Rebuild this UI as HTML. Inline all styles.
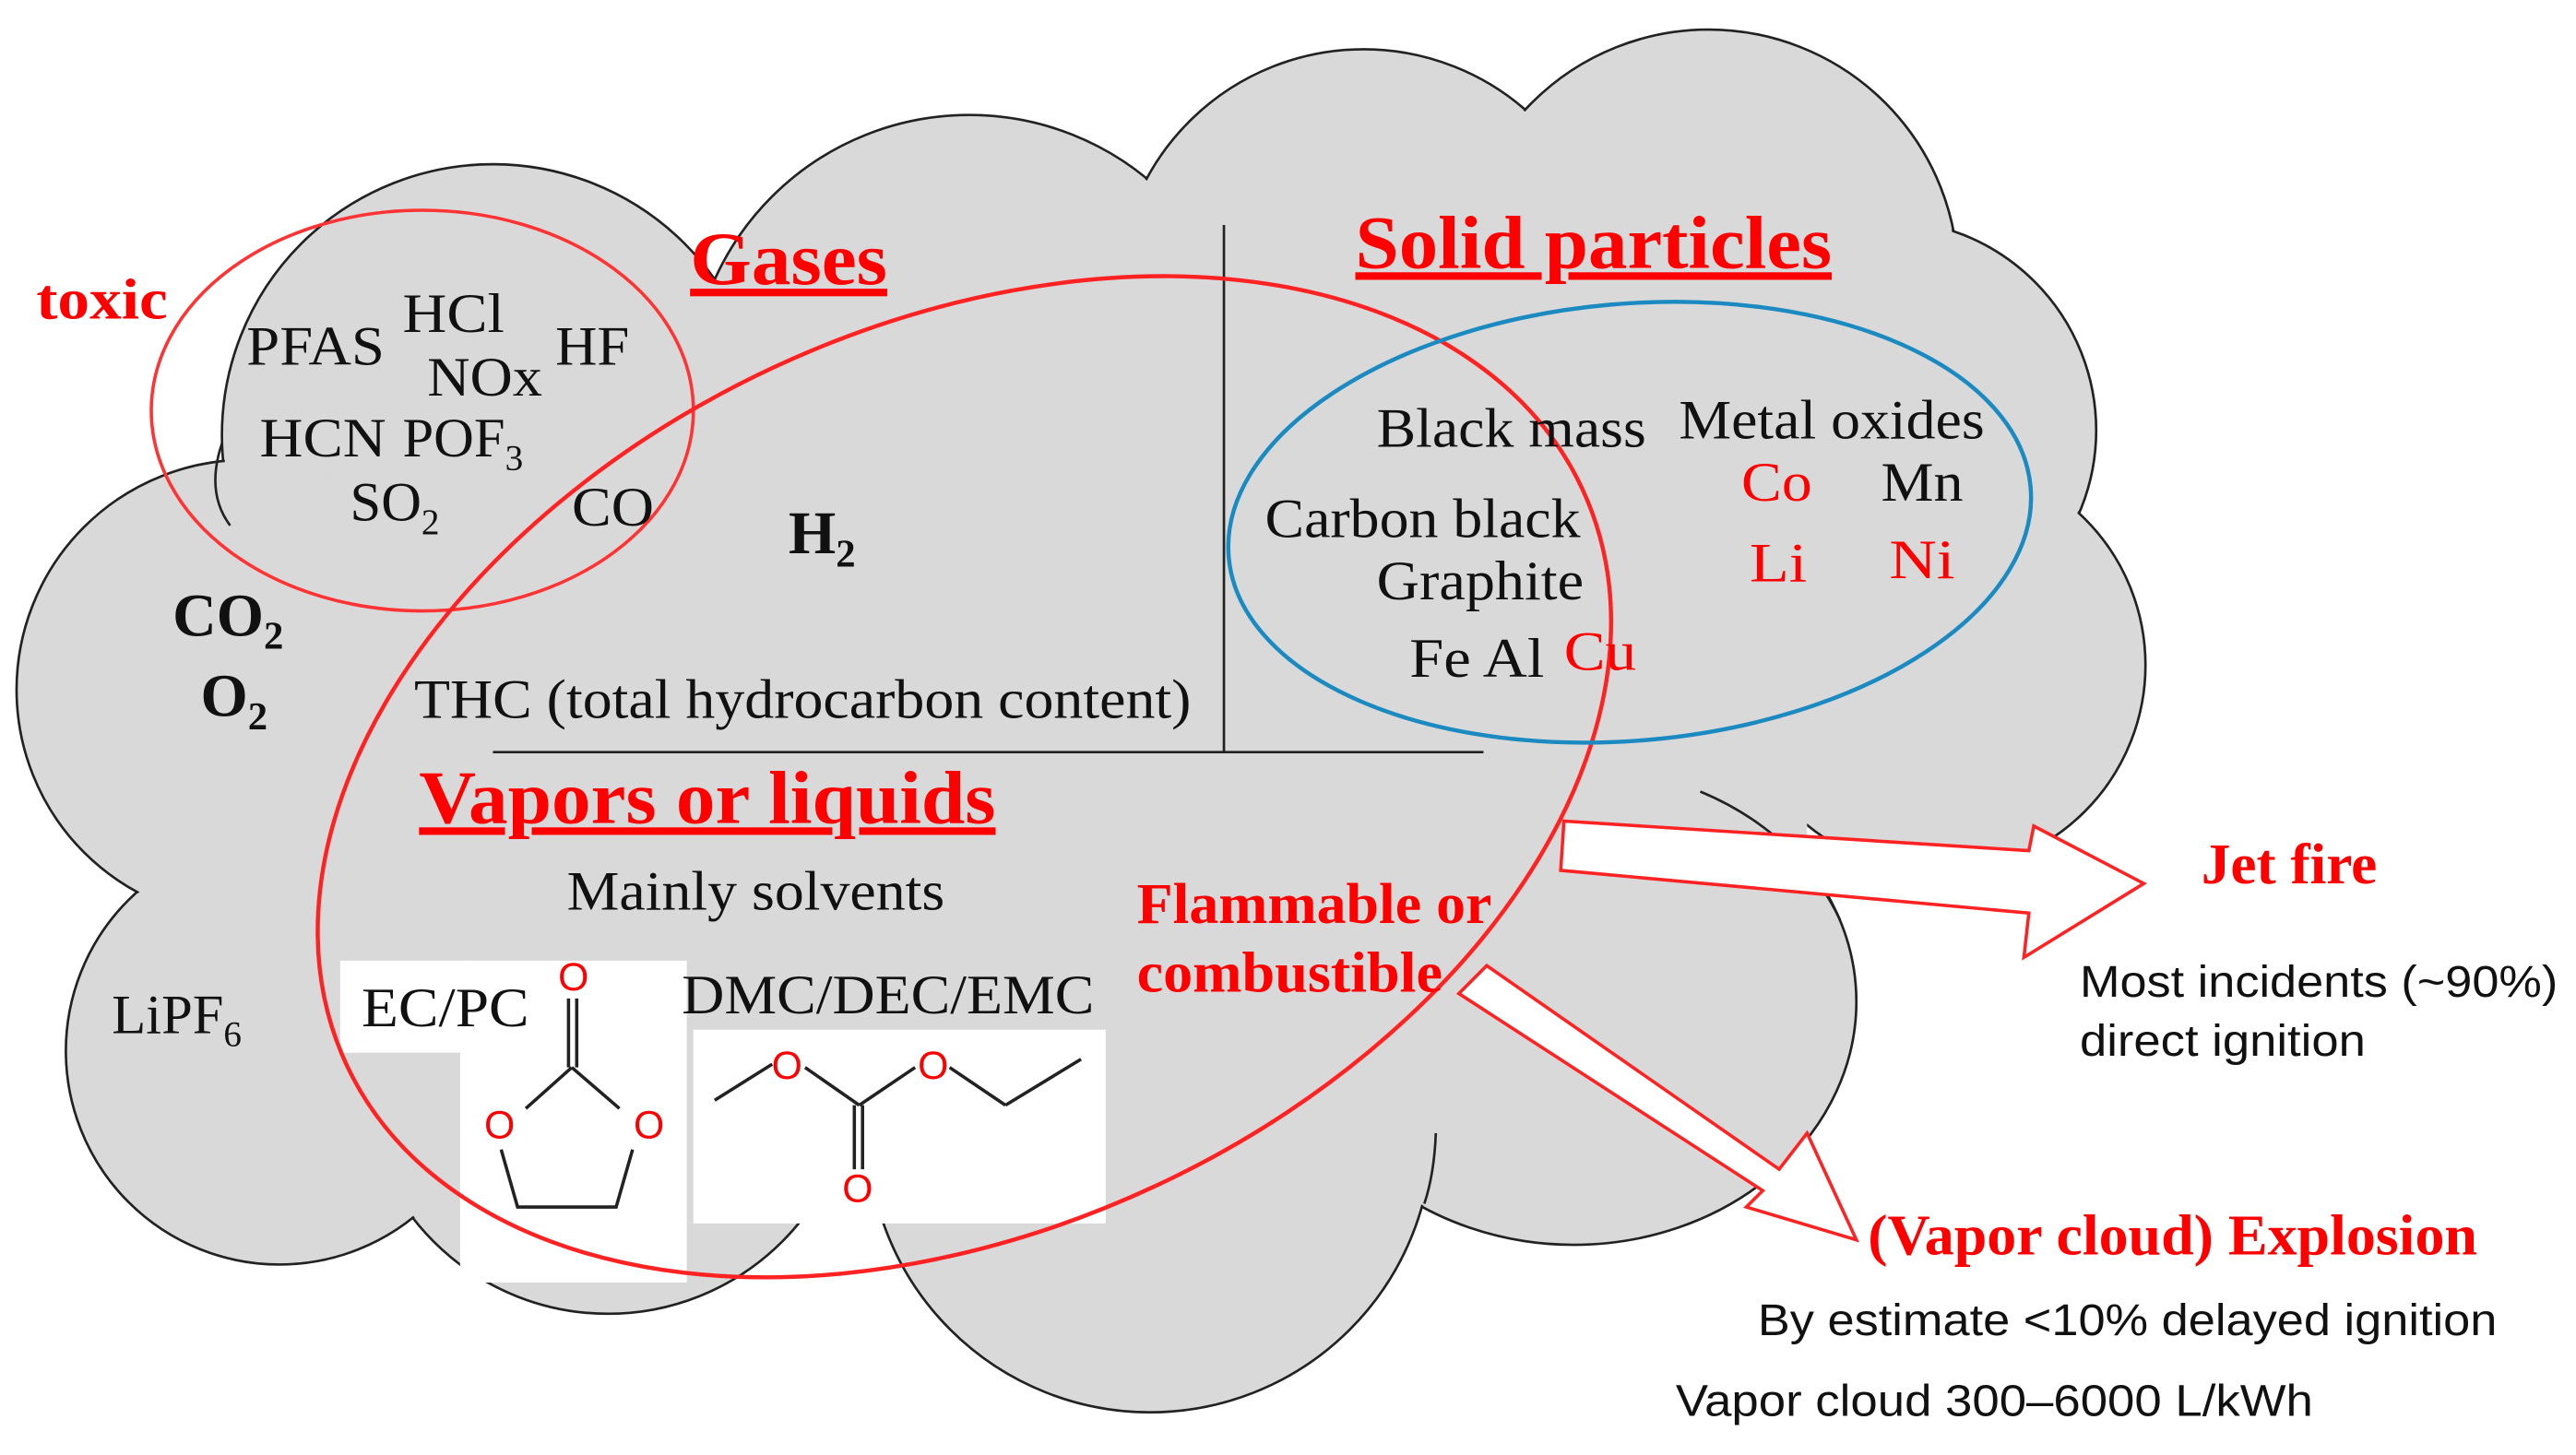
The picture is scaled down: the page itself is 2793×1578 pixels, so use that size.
<!DOCTYPE html>
<html><head><meta charset="utf-8"><style>
html,body{margin:0;padding:0;background:#fff;width:2793px;height:1578px;overflow:hidden}
svg{display:block}
text{font-family:"Liberation Serif",serif}
.s{font-family:"Liberation Sans",sans-serif}
</style></head><body>
<svg width="2793" height="1578" viewBox="0 0 1568 886" xmlns="http://www.w3.org/2000/svg">
<g fill="#d9d9d9" stroke="#222" stroke-width="1.5">
<circle cx="300" cy="265" r="165"/>
<circle cx="590" cy="240" r="170"/>
<circle cx="830" cy="180" r="150"/>
<circle cx="1040" cy="170" r="152"/>
<circle cx="1148" cy="262" r="128"/>
<circle cx="1180" cy="405" r="126"/>
<ellipse cx="958" cy="610" rx="172" ry="148"/>
<circle cx="700" cy="688" r="172"/>
<circle cx="370" cy="650" r="150"/>
<circle cx="170" cy="640" r="130"/>
<circle cx="150" cy="420" r="140"/>
</g>
<g fill="#d9d9d9">
<circle cx="300" cy="265" r="164"/>
<circle cx="590" cy="240" r="169"/>
<circle cx="830" cy="180" r="149"/>
<circle cx="1040" cy="170" r="151"/>
<circle cx="1148" cy="262" r="127"/>
<circle cx="1180" cy="405" r="125"/>
<ellipse cx="958" cy="610" rx="171" ry="147"/>
<circle cx="700" cy="688" r="171"/>
<circle cx="370" cy="650" r="149"/>
<circle cx="170" cy="640" r="129"/>
<circle cx="150" cy="420" r="139"/>
<rect x="200" y="250" width="880" height="420"/>
<rect x="1000" y="250" width="100" height="310"/>
</g>
<g fill="none" stroke="#222" stroke-width="1.5">
<path d="M1035,482 A172,148 0 0 1 1120,560"/>
<path d="M140,320 Q125,300 135,270"/>
<path d="M874,690 Q873,715 867,733"/>
</g>
<rect x="207" y="585" width="80" height="56" fill="#fff"/>
<rect x="280" y="585" width="138" height="196" fill="#fff"/>
<rect x="422" y="627" width="251" height="118" fill="#fff"/>
<g stroke="#222" stroke-width="2" fill="none">
<line x1="346" y1="608" x2="346" y2="650"/><line x1="351" y1="608" x2="351" y2="650"/>
<line x1="348" y1="650" x2="320" y2="675"/><line x1="348" y1="650" x2="377" y2="675"/>
<polyline points="305,700 315,735 375,735 385,700"/>
<line x1="435" y1="670" x2="470" y2="648"/><line x1="490" y1="650" x2="523" y2="673"/>
<line x1="523" y1="673" x2="557" y2="650"/><line x1="578" y1="650" x2="612" y2="673"/><line x1="612" y1="673" x2="658" y2="645"/>
<line x1="520" y1="673" x2="520" y2="712"/><line x1="525" y1="673" x2="525" y2="712"/>
</g>
<g fill="#f00" font-size="24" text-anchor="middle">
<text x="349" y="603" class="s">O</text><text x="304" y="693" class="s">O</text><text x="395" y="693" class="s">O</text>
<text x="479" y="657" class="s">O</text><text x="568" y="657" class="s">O</text><text x="522" y="732" class="s">O</text>
</g>
<line x1="745" y1="137" x2="745" y2="458" stroke="#222" stroke-width="1.5"/>
<line x1="300" y1="458" x2="903" y2="458" stroke="#222" stroke-width="1.5"/>
<ellipse cx="257" cy="250" rx="165" ry="122" fill="none" stroke="#f33" stroke-width="2"/>
<ellipse cx="587" cy="473" rx="415" ry="275" transform="rotate(-25 587 473)" fill="none" stroke="#f22" stroke-width="2.5"/>
<ellipse cx="992" cy="318" rx="245" ry="133" transform="rotate(-5 992 318)" fill="none" stroke="#1a8ac0" stroke-width="2.5"/>
<polygon points="952,500 1235,518 1238,503 1305,538 1232,583 1235,556 950,530" fill="#fff" stroke="#f22" stroke-width="2"/>
<polygon points="905,588 1083,712 1100,690 1130,755 1063,735 1073,725 888,605" fill="#fff" stroke="#f22" stroke-width="2"/>
<g fill="#f00" font-weight="bold" text-decoration="underline">
<text x="420" y="173" font-size="46" textLength="120" lengthAdjust="spacingAndGlyphs">Gases</text>
<text x="825" y="163" font-size="46" textLength="290" lengthAdjust="spacingAndGlyphs">Solid particles</text>
<text x="255" y="501" font-size="46" textLength="351" lengthAdjust="spacingAndGlyphs">Vapors or liquids</text>
</g>
<g fill="#f00" font-weight="bold">
<text x="22" y="194" font-size="35" textLength="80" lengthAdjust="spacingAndGlyphs">toxic</text>
<text x="692" y="562" font-size="35" textLength="216" lengthAdjust="spacingAndGlyphs">Flammable or</text>
<text x="692" y="604" font-size="35" textLength="186" lengthAdjust="spacingAndGlyphs">combustible</text>
<text x="1340" y="538" font-size="35" textLength="107" lengthAdjust="spacingAndGlyphs">Jet fire</text>
<text x="1137" y="764" font-size="35" textLength="371" lengthAdjust="spacingAndGlyphs">(Vapor cloud) Explosion</text>
</g>
<g fill="#111" font-size="34">
<text x="150" y="222" textLength="84" lengthAdjust="spacingAndGlyphs">PFAS</text>
<text x="245" y="202" textLength="62" lengthAdjust="spacingAndGlyphs">HCl</text>
<text x="338" y="222" textLength="45" lengthAdjust="spacingAndGlyphs">HF</text>
<text x="260" y="241" textLength="70" lengthAdjust="spacingAndGlyphs">NOx</text>
<text x="158" y="278" textLength="77" lengthAdjust="spacingAndGlyphs">HCN</text>
<text x="245" y="278">POF<tspan font-size="22" dy="8">3</tspan></text>
<text x="213" y="317">SO<tspan font-size="22" dy="8">2</tspan></text>
<text x="348" y="320" textLength="50" lengthAdjust="spacingAndGlyphs">CO</text>
<text x="252" y="437" textLength="473" lengthAdjust="spacingAndGlyphs">THC (total hydrocarbon content)</text>
<text x="838" y="272" textLength="164" lengthAdjust="spacingAndGlyphs">Black mass</text>
<text x="1022" y="267" textLength="186" lengthAdjust="spacingAndGlyphs">Metal oxides</text>
<text x="1145" y="305" textLength="50" lengthAdjust="spacingAndGlyphs">Mn</text>
<text x="770" y="327" textLength="192" lengthAdjust="spacingAndGlyphs">Carbon black</text>
<text x="838" y="365" textLength="126" lengthAdjust="spacingAndGlyphs">Graphite</text>
<text x="858" y="412" textLength="82" lengthAdjust="spacingAndGlyphs">Fe Al</text>
<text x="345" y="554" textLength="230" lengthAdjust="spacingAndGlyphs">Mainly solvents</text>
<text x="68" y="629">LiPF<tspan font-size="22" dy="8">6</tspan></text>
<text x="220" y="625" textLength="102" lengthAdjust="spacingAndGlyphs">EC/PC</text>
<text x="415" y="617" textLength="251" lengthAdjust="spacingAndGlyphs">DMC/DEC/EMC</text>
</g>
<g fill="#111" font-size="37" font-weight="bold">
<text x="480" y="337">H<tspan font-size="24" dy="8">2</tspan></text>
<text x="105" y="387">CO<tspan font-size="24" dy="8">2</tspan></text>
<text x="122" y="436">O<tspan font-size="24" dy="8">2</tspan></text>
</g>
<g fill="#f00" font-size="34">
<text x="1060" y="305" textLength="43" lengthAdjust="spacingAndGlyphs">Co</text>
<text x="1065" y="354" textLength="35" lengthAdjust="spacingAndGlyphs">Li</text>
<text x="1150" y="352" textLength="40" lengthAdjust="spacingAndGlyphs">Ni</text>
<text x="952" y="408" textLength="44" lengthAdjust="spacingAndGlyphs">Cu</text>
</g>
<g fill="#111" font-size="27">
<text x="1266" y="607" class="s" textLength="291" lengthAdjust="spacingAndGlyphs">Most incidents (~90%)</text>
<text x="1266" y="643" class="s" textLength="174" lengthAdjust="spacingAndGlyphs">direct ignition</text>
<text x="1070" y="813" class="s" textLength="450" lengthAdjust="spacingAndGlyphs">By estimate &lt;10% delayed ignition</text>
<text x="1020" y="862" class="s" textLength="388" lengthAdjust="spacingAndGlyphs">Vapor cloud 300–6000 L/kWh</text>
</g>
</svg>
</body></html>
